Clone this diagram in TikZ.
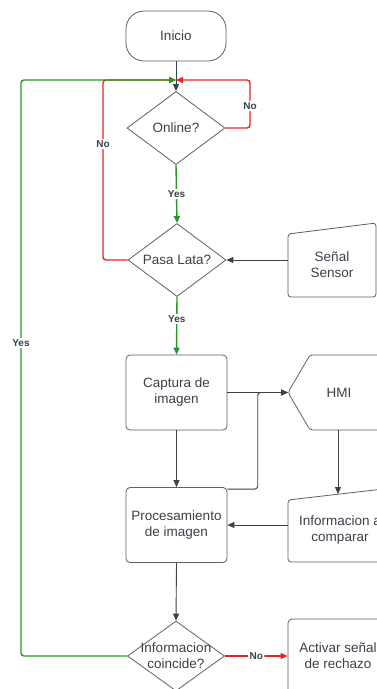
\documentclass[tikz,border=0pt]{standalone}
\usepackage{fontspec}
\setmainfont{Liberation Sans}
\usetikzlibrary{arrows.meta,shapes.geometric,calc}
\definecolor{ln}{HTML}{3A414A}
\definecolor{bd}{HTML}{5E6066}
\definecolor{tx}{HTML}{3A414A}
\definecolor{gr}{HTML}{239A23}
\definecolor{rd}{HTML}{E62525}
\tikzset{
  ntext/.style={text=tx, font=\fontsize{13.5}{16}\selectfont, align=center},
  term/.style={ntext, draw=bd, line width=0.8pt, rounded corners=18pt, minimum width=100pt, minimum height=50pt, inner sep=0pt},
  procbox/.style={ntext, draw=bd, line width=0.8pt, rounded corners=4pt, minimum width=101pt, minimum height=75pt, inner sep=0pt},
  ghost/.style={inner sep=0pt, outer sep=0pt},
  dec/.style={diamond, draw=bd, line width=0.8pt, minimum width=98pt, minimum height=73pt, inner sep=0pt},
  conn/.style={draw=ln, line width=0.9pt, -{Triangle[length=7pt,width=6pt]}},
  gconn/.style={draw=gr, line width=1.4pt, rounded corners=3pt, -{Triangle[length=7pt,width=6pt]}},
  rconn/.style={draw=rd, line width=1.4pt, rounded corners=3pt, -{Triangle[length=7pt,width=6pt]}},
  lbl/.style={fill=white, text=tx, font=\fontsize{10}{12}\selectfont\bfseries, inner sep=1.5pt},
}
\begin{document}
\begin{tikzpicture}[x=1pt,y=-1pt]
\useasboundingbox (0,0) rectangle (377,689);
\fill[white] (0,0) rectangle (377,689);
\clip (0,0) rectangle (377,689);

% nodes
\node[term] (inicio) at (176,36) {Inicio};
\node[dec, label={[ntext]center:Online?}] (online) at (176,128) {};
\node[dec, label={[ntext]center:Pasa Lata?}] (pasa) at (177,260) {};
\node[procbox] (captura) at (176.5,392.5) {Captura de\\imagen};
\node[procbox] (proc) at (176.5,525) {Procesamiento\\de imagen};
\node[dec, minimum width=97pt, minimum height=70pt, label={[ntext]center:Informacion\\coincide?}] (coin) at (176,656) {};

% Señal Sensor (manual input)
\node[ghost, minimum width=88pt, minimum height=74pt, label={[ntext,yshift=-5pt]center:Señal\\Sensor}] (sensor) at (332,260) {};
\draw[bd, line width=0.8pt, rounded corners=3pt]
  ($(sensor.north west)+(0,11)$) -- (sensor.north east) -- (sensor.south east) -- (sensor.south west) -- cycle;

% HMI (display)
\node[ghost, minimum width=112pt, minimum height=75pt, label={[ntext,xshift=-5pt]center:HMI}] (hmi) at (344,392.5) {};
\draw[bd, line width=0.8pt, rounded corners=3pt]
  (hmi.west) -- ($(hmi.north west)+(22,0)$) -- (hmi.north east) -- (hmi.south east) -- ($(hmi.south west)+(22,0)$) -- cycle;

% Informacion a comparar (manual input)
\node[ghost, minimum width=104pt, minimum height=74pt, label={[ntext,yshift=-5pt]center:Informacion a\\comparar}] (info) at (340,525) {};
\draw[bd, line width=0.8pt, rounded corners=3pt]
  ($(info.north west)+(0,12)$) -- (info.north east) -- (info.south east) -- (info.south west) -- cycle;

% Activar señal de rechazo
\node[procbox, minimum width=100pt, minimum height=74pt] (act) at (338,656) {Activar señal\\de rechazo};

% helper coordinates
\coordinate (j) at (176,80);
\coordinate (yl) at (21,80);
\coordinate (nl) at (103,80);
\coordinate (rl) at (250,80);
\coordinate (hb) at ($(hmi.south west)+(50,0)$);
\coordinate (ib) at ($(info.north west)+(50,6)$);

% connectors
\draw[conn] (inicio.south) -- (online.north);
\draw[rconn] (online.east) -| (rl) -- (j);
\draw[rconn] (pasa.west) -| (nl) -- (j);
\draw[gconn] (coin.west) -| (yl) -- (j);
\node[lbl] at (250,106) {No};
\node[lbl] at (103,144) {No};
\node[lbl] at (21,343) {Yes};

\draw[gconn] (online.south) -- node[lbl] {Yes} (pasa.north);
\draw[gconn] (pasa.south) -- node[lbl, pos=0.38] {Yes} (captura.north);
\draw[conn] (sensor.west) -- (pasa.east);
\draw[conn] (captura.east) -- (hmi.west);
\draw[conn, rounded corners=3pt] ($(proc.north east)+(0,2)$) -| ($(captura.east)!0.5!(hmi.west)$) -- (hmi.west);
\draw[conn] (captura.south) -- (proc.north);
\draw[conn] (hb) -- (ib);
\draw[conn] (info.west) -- (proc.east);
\draw[conn] (proc.south) -- (coin.north);
\draw[rconn] (coin.east) -- node[lbl] {No} (act.west);
\end{tikzpicture}
\end{document}
